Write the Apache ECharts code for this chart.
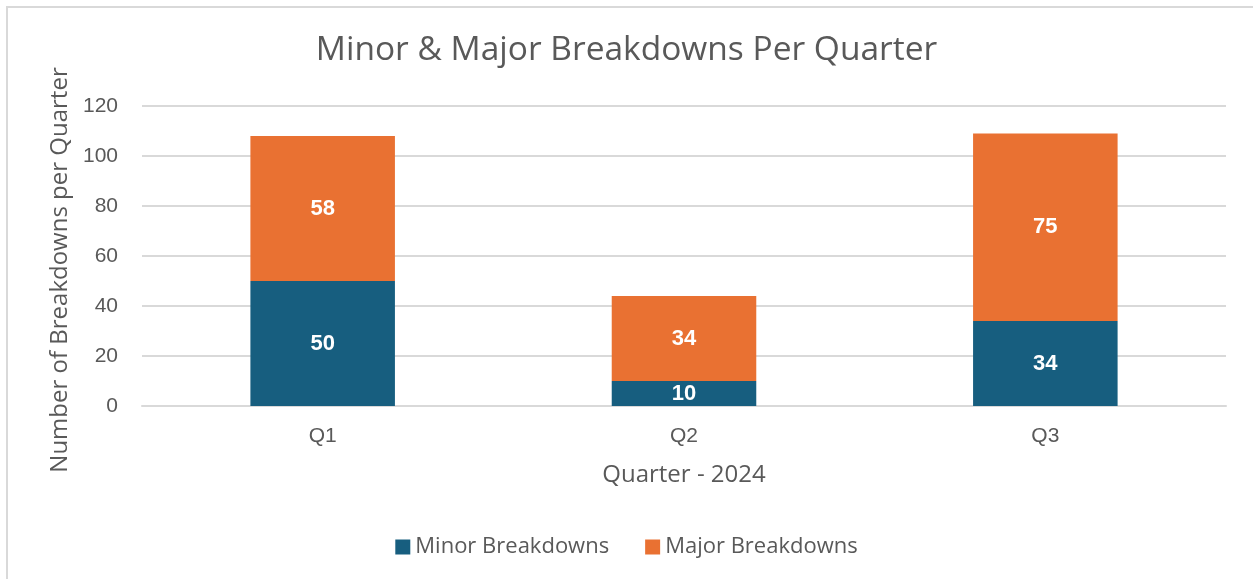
<!DOCTYPE html>
<html>
<head>
<meta charset="utf-8">
<script src="https://cdn.jsdelivr.net/npm/echarts@6/dist/echarts.min.js"></script>
<style>
  html, body { margin: 0; padding: 0; background: #fff; overflow: hidden; }
  #frame { position: absolute; left: 6px; top: 6px; width: 1300px; height: 640px;
           border-left: 2px solid #d9d9d9; border-top: 2px solid #d9d9d9; }
  #chart { position: absolute; left: 0; top: 0; width: 1253px; height: 579px; }
</style>
</head>
<body>
<div id="frame"></div>
<div id="chart"></div>
<script>
const quarters = ['Q1', 'Q2', 'Q3'];
const minorBreakdowns = [50, 10, 34];
const majorBreakdowns = [58, 34, 75];

var chartDom = document.getElementById('chart');
var myChart = echarts.init(chartDom);

const labelStyle = {
  show: true,
  position: 'inside',
  color: '#fff',
  fontWeight: 'bold',
  fontSize: 22,
  fontFamily: 'Liberation Sans'
};

const option = {
  backgroundColor: 'transparent',
  title: {
    text: 'Minor & Major Breakdowns Per Quarter',
    left: 'center',
    top: 28,
    textStyle: { fontSize: 33.5, fontWeight: 'normal', color: '#595959', fontFamily: 'Open Sans' }
  },
  legend: {
    bottom: 16,
    left: 'center',
    itemWidth: 15,
    itemHeight: 15,
    itemGap: 36,
    icon: 'rect',
    textStyle: { fontSize: 22, color: '#595959', fontFamily: 'Open Sans' },
    data: ['Minor Breakdowns', 'Major Breakdowns']
  },
  grid: { left: 142, right: 27, top: 106, bottom: 173 },
  xAxis: {
    type: 'category',
    data: quarters,
    name: 'Quarter - 2024',
    nameLocation: 'middle',
    nameGap: 57,
    nameTextStyle: { fontSize: 24, color: '#595959', fontFamily: 'Open Sans' },
    axisLine: { lineStyle: { color: '#d9d9d9', width: 2 } },
    axisTick: { show: false },
    axisLabel: { fontSize: 21, color: '#595959', margin: 20, fontFamily: 'Liberation Sans' }
  },
  yAxis: {
    type: 'value',
    min: 0,
    max: 120,
    interval: 20,
    name: 'Number of Breakdowns per Quarter',
    nameLocation: 'middle',
    nameGap: 68,
    nameTextStyle: { fontSize: 24, color: '#595959', fontFamily: 'Open Sans', padding: [0, 28, 0, 0] },
    axisLine: { show: false },
    axisTick: { show: false },
    splitLine: { lineStyle: { color: '#d9d9d9', width: 2 } },
    axisLabel: { fontSize: 21, color: '#595959', margin: 24, fontFamily: 'Liberation Sans' }
  },
  series: [
    {
      name: 'Minor Breakdowns',
      type: 'bar',
      stack: 'total',
      barWidth: '40%',
      data: minorBreakdowns,
      itemStyle: { color: '#175e7f' },
      label: labelStyle
    },
    {
      name: 'Major Breakdowns',
      type: 'bar',
      stack: 'total',
      barWidth: '40%',
      data: majorBreakdowns,
      itemStyle: { color: '#e97132' },
      label: labelStyle
    }
  ]
};

myChart.setOption(option);
</script>
</body>
</html>
